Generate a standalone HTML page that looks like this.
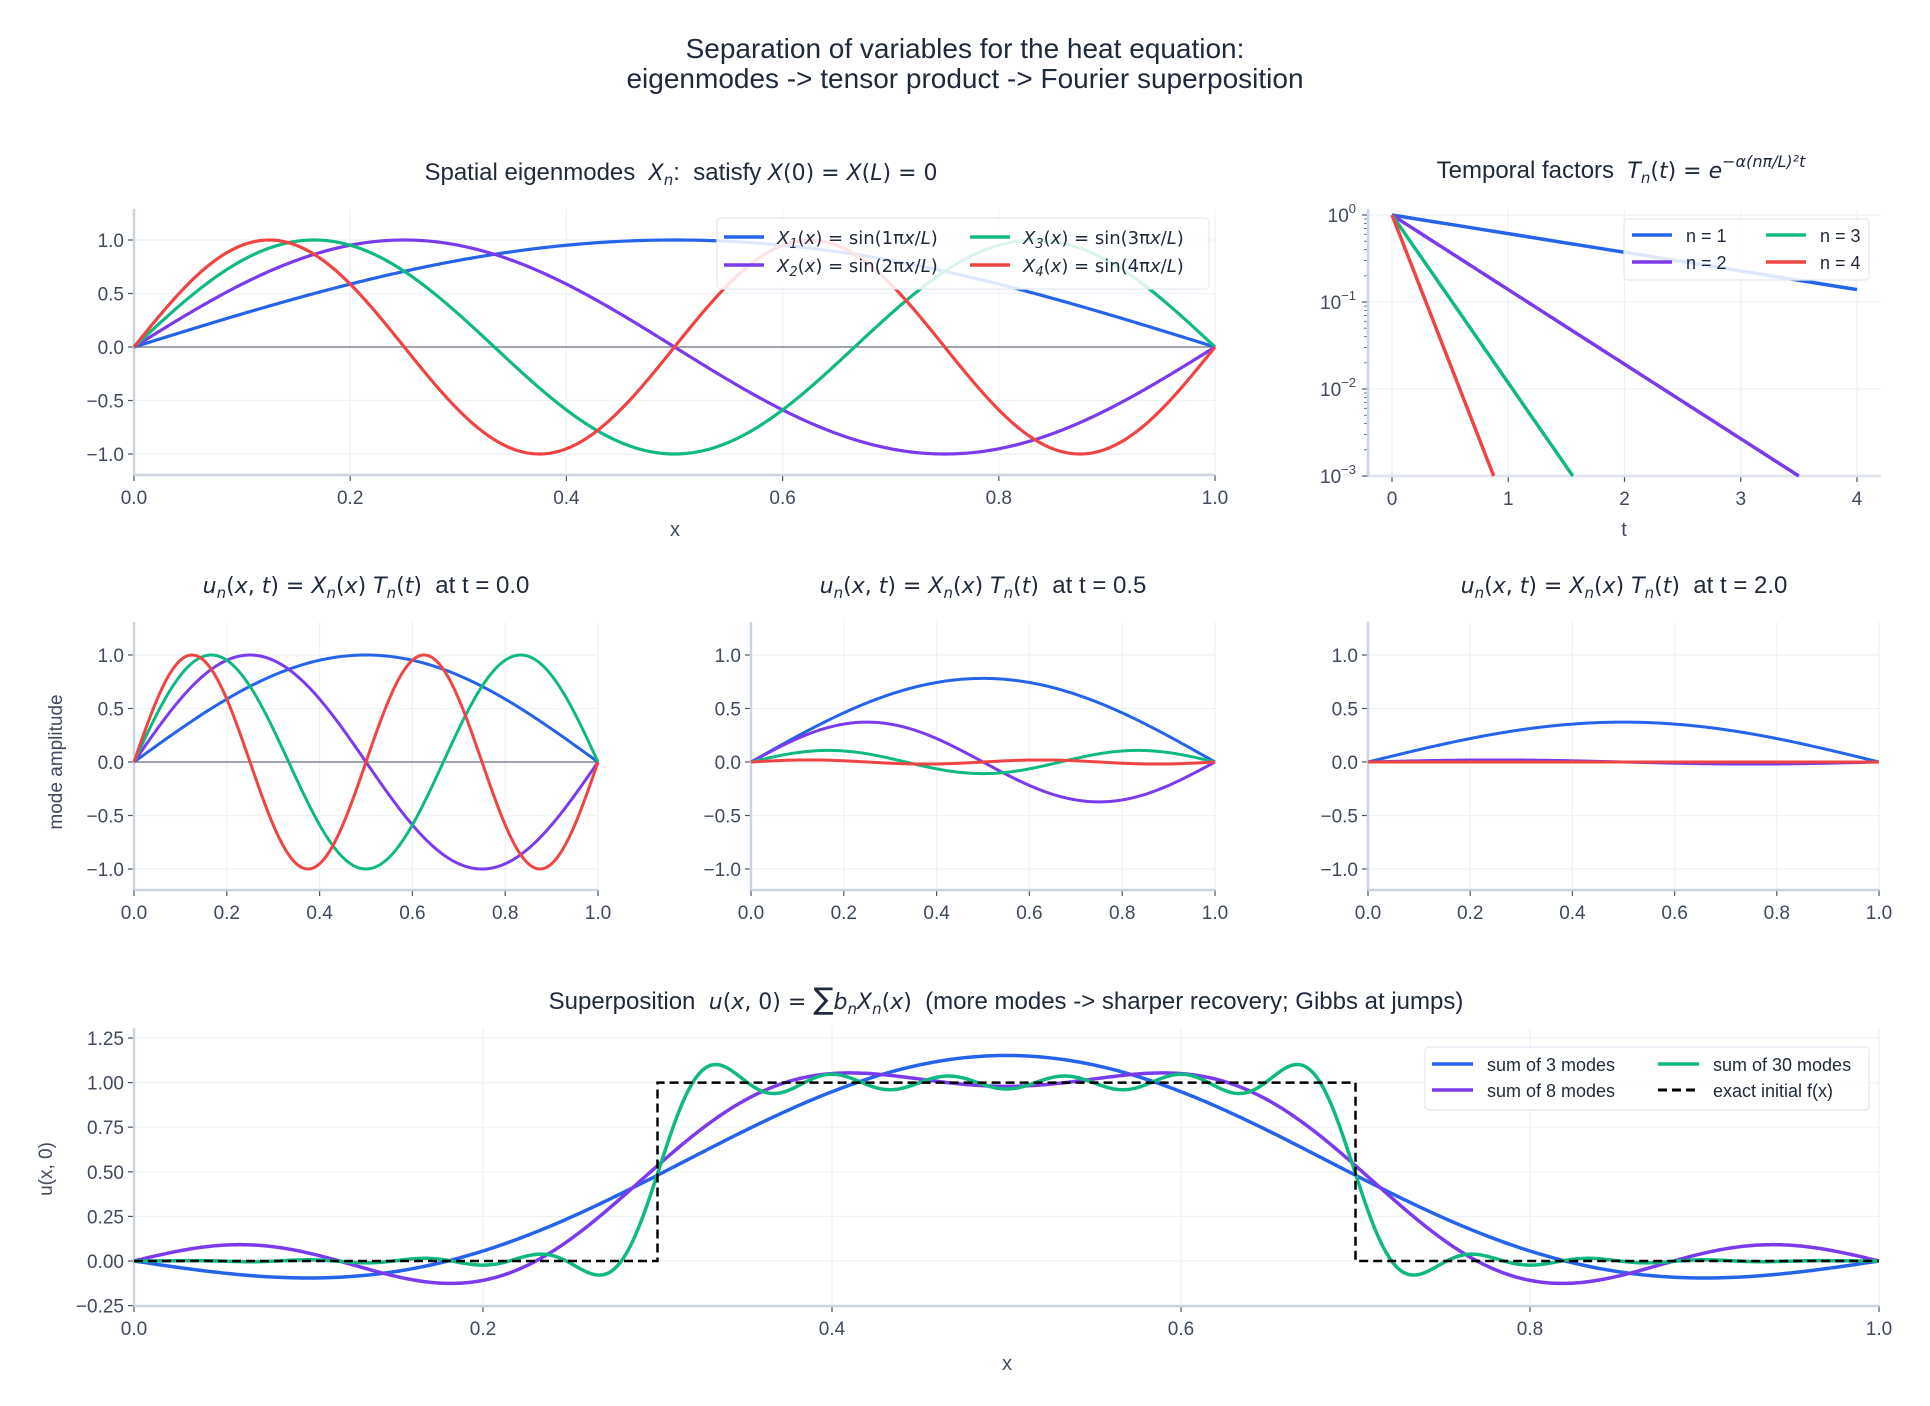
<!DOCTYPE html>
<html><head><meta charset="utf-8">
<style>
html,body{margin:0;padding:0;background:#fff;}
svg{display:block;font-family:"Liberation Sans",Arial,sans-serif;}
svg text{white-space:pre;}
.tk{font-size:19px;fill:#3f4a5c;}
.ttl{font-size:24px;fill:#1e293b;}
.m{font-family:"DejaVu Sans",sans-serif;font-style:italic;font-size:22px;}
.mr{font-family:"DejaVu Sans",sans-serif;font-size:22px;}
.lg{font-size:18px;fill:#1e293b;}
.lg .m,.lg .mr{font-size:18px;}
</style></head>
<body>
<svg id="s" width="1930" height="1406" viewBox="0 0 1930 1406" xmlns="http://www.w3.org/2000/svg">
<text x="965" y="58" text-anchor="middle" style="font-size:28px;fill:#1e293b">Separation of variables for the heat equation:</text>
<text x="965" y="88" text-anchor="middle" style="font-size:28px;fill:#1e293b">eigenmodes -&gt; tensor product -&gt; Fourier superposition</text>

<text x="681" y="180" text-anchor="middle" class="ttl">Spatial eigenmodes  <tspan class="m">X</tspan><tspan class="m" dy="5" style="font-size:15px">n</tspan><tspan dy="-5">:  satisfy </tspan><tspan class="m">X</tspan><tspan class="mr">(0) = </tspan><tspan class="m">X</tspan><tspan class="mr">(</tspan><tspan class="m">L</tspan><tspan class="mr">) = 0</tspan></text>
<text x="1621" y="178" text-anchor="middle" class="ttl">Temporal factors  <tspan class="m">T</tspan><tspan class="m" dy="5" style="font-size:15px">n</tspan><tspan class="mr" dy="-5">(</tspan><tspan class="m">t</tspan><tspan class="mr">) = </tspan><tspan class="m">e</tspan><tspan class="m" dy="-11" style="font-size:16px">−α(nπ/L)²t</tspan></text>

<text x="366" y="593" text-anchor="middle" class="ttl"><tspan class="m">u</tspan><tspan class="m" dy="5" style="font-size:15px">n</tspan><tspan class="mr" dy="-5">(</tspan><tspan class="m">x</tspan><tspan class="mr">, </tspan><tspan class="m">t</tspan><tspan class="mr">) = </tspan><tspan class="m">X</tspan><tspan class="m" dy="5" style="font-size:15px">n</tspan><tspan class="mr" dy="-5">(</tspan><tspan class="m">x</tspan><tspan class="mr">) </tspan><tspan class="m">T</tspan><tspan class="m" dy="5" style="font-size:15px">n</tspan><tspan class="mr" dy="-5">(</tspan><tspan class="m">t</tspan><tspan class="mr">)</tspan>  at t = 0.0</text>
<text x="983" y="593" text-anchor="middle" class="ttl"><tspan class="m">u</tspan><tspan class="m" dy="5" style="font-size:15px">n</tspan><tspan class="mr" dy="-5">(</tspan><tspan class="m">x</tspan><tspan class="mr">, </tspan><tspan class="m">t</tspan><tspan class="mr">) = </tspan><tspan class="m">X</tspan><tspan class="m" dy="5" style="font-size:15px">n</tspan><tspan class="mr" dy="-5">(</tspan><tspan class="m">x</tspan><tspan class="mr">) </tspan><tspan class="m">T</tspan><tspan class="m" dy="5" style="font-size:15px">n</tspan><tspan class="mr" dy="-5">(</tspan><tspan class="m">t</tspan><tspan class="mr">)</tspan>  at t = 0.5</text>
<text x="1624" y="593" text-anchor="middle" class="ttl"><tspan class="m">u</tspan><tspan class="m" dy="5" style="font-size:15px">n</tspan><tspan class="mr" dy="-5">(</tspan><tspan class="m">x</tspan><tspan class="mr">, </tspan><tspan class="m">t</tspan><tspan class="mr">) = </tspan><tspan class="m">X</tspan><tspan class="m" dy="5" style="font-size:15px">n</tspan><tspan class="mr" dy="-5">(</tspan><tspan class="m">x</tspan><tspan class="mr">) </tspan><tspan class="m">T</tspan><tspan class="m" dy="5" style="font-size:15px">n</tspan><tspan class="mr" dy="-5">(</tspan><tspan class="m">t</tspan><tspan class="mr">)</tspan>  at t = 2.0</text>

<text x="1006" y="1009" text-anchor="middle" class="ttl">Superposition  <tspan class="m">u</tspan><tspan class="mr">(</tspan><tspan class="m">x</tspan><tspan class="mr">, 0) = </tspan><tspan class="mr" style="font-size:30px">∑</tspan><tspan class="m">b</tspan><tspan class="m" dy="5" style="font-size:15px">n</tspan><tspan class="m" dy="-5">X</tspan><tspan class="m" dy="5" style="font-size:15px">n</tspan><tspan class="mr" dy="-5">(</tspan><tspan class="m">x</tspan><tspan class="mr">)</tspan>  (more modes -&gt; sharper recovery; Gibbs at jumps)</text>

<text x="675" y="536" text-anchor="middle" class="tk" style="font-size:20px">x</text>
<text x="1624" y="536" text-anchor="middle" class="tk" style="font-size:20px">t</text>
<text x="1007" y="1370" text-anchor="middle" class="tk" style="font-size:20px">x</text>
<text transform="translate(62,762) rotate(-90)" text-anchor="middle" class="tk" style="font-size:19px">mode amplitude</text>
<text transform="translate(52,1169) rotate(-90)" text-anchor="middle" class="tk" style="font-size:19px">u(x, 0)</text>
<g id="g"></g>
</svg>
<script>
var NS="http://www.w3.org/2000/svg",G=document.getElementById('g');
function el(t,a,p){var e=document.createElementNS(NS,t);for(var k in a)e.setAttribute(k,a[k]);(p||G).appendChild(e);return e;}
function tx(x,y,s,a,cls){var e=el('text',{x:x,y:y,'text-anchor':a||'middle','class':cls||'tk'});e.textContent=s;return e;}
var C=['#2563eb','#7c3aed','#10b981','#ef4444'];
var grid='#eef1f6',spine='#cbd5e1';
function axes(o){
  o.xt.forEach(function(v){var X=o.fx(v[0]);el('line',{x1:X,x2:X,y1:o.y0,y2:o.y1,stroke:grid,'stroke-width':1.2});
    el('line',{x1:X,x2:X,y1:o.y1,y2:o.y1+6,stroke:'#475569','stroke-width':1.2});tx(X,o.y1+29,v[1]);});
  o.yt.forEach(function(v){var Y=o.fy(v[0]);el('line',{x1:o.x0,x2:o.x1,y1:Y,y2:Y,stroke:grid,'stroke-width':1.2});
    el('line',{x1:o.x0-6,x2:o.x0,y1:Y,y2:Y,stroke:'#475569','stroke-width':1.2});tx(o.x0-10,Y+7,v[1],'end');});
  el('line',{x1:o.x0,x2:o.x0,y1:o.y0,y2:o.y1,stroke:spine,'stroke-width':2.5});
  el('line',{x1:o.x0,x2:o.x1,y1:o.y1,y2:o.y1,stroke:spine,'stroke-width':2.5});
}
function path(f,fx,fy,a,b,N,col,w,dash){var d='';for(var i=0;i<=N;i++){var x=a+(b-a)*i/N;d+=(i?'L':'M')+fx(x).toFixed(2)+','+fy(f(x)).toFixed(2);}
  var at={d:d,fill:'none',stroke:col,'stroke-width':w||3,'stroke-linejoin':'round'};if(dash)at['stroke-dasharray']=dash;return el('path',at);}
function lin(a,b,A,B){return function(v){return A+(v-a)*(B-A)/(b-a);};}
var xt5=[[0,'0.0'],[0.2,'0.2'],[0.4,'0.4'],[0.6,'0.6'],[0.8,'0.8'],[1,'1.0']];
var yt1=[[-1,'\u22121.0'],[-0.5,'\u22120.5'],[0,'0.0'],[0.5,'0.5'],[1,'1.0']];
var PI=Math.PI,al=0.05;
(function(){var fx=lin(0,1,134,1215),fy=lin(0,1,347,240);
 axes({x0:134,x1:1215,y0:209,y1:475,fx:fx,fy:fy,xt:xt5,yt:yt1});
 el('line',{x1:134,x2:1215,y1:347,y2:347,stroke:'#6b7280','stroke-width':1.2});
 for(var n=1;n<=4;n++)(function(n){path(function(x){return Math.sin(n*PI*x);},fx,fy,0,1,400,C[n-1],3.2);})(n);
 el('rect',{x:717,y:218,width:492,height:71,rx:4,fill:'rgba(255,255,255,0.85)',stroke:'#e2e8f0','stroke-width':1.2});
 [[0,0,1],[0,1,2],[1,0,3],[1,1,4]].forEach(function(r){var cx=r[0]?246:0,cy=r[1]?265:237;
  el('line',{x1:724+cx,x2:764+cx,y1:cy,y2:cy,stroke:C[r[2]-1],'stroke-width':3.5});
  var t=el('text',{x:777+cx,y:cy+7,'class':'lg'});t.innerHTML='<tspan class="m">X</tspan><tspan class="m" dy="4" style="font-size:13px">'+r[2]+'</tspan><tspan class="mr" dy="-4">(</tspan><tspan class="m">x</tspan><tspan class="mr">) = sin('+r[2]+'π</tspan><tspan class="m">x</tspan><tspan class="mr">/</tspan><tspan class="m">L</tspan><tspan class="mr">)</tspan>';});
})();
(function(){var fx=lin(0,4,1392,1857),fy=function(v){return 215+(-Math.log10(v))*(476-215)/3;};
 var xt=[[0,'0'],[1,'1'],[2,'2'],[3,'3'],[4,'4']];
 axes({x0:1368,x1:1881,y0:209,y1:476,fx:fx,fy:fy,xt:xt,yt:[]});
 [0,-1,-2,-3].forEach(function(e){var Y=fy(Math.pow(10,e));el('line',{x1:1368,x2:1881,y1:Y,y2:Y,stroke:grid,'stroke-width':1.2});
  el('line',{x1:1362,x2:1368,y1:Y,y2:Y,stroke:'#475569','stroke-width':1.2});
  var t=el('text',{x:1356,y:Y+7,'text-anchor':'end','class':'tk'});t.innerHTML='10<tspan dy="-9" style="font-size:13px">'+(e==0?'0':'\u2212'+(-e))+'</tspan>';
  if(e>-3)for(var m=2;m<10;m++){var Ym=fy(m*Math.pow(10,e-1));el('line',{x1:1364,x2:1368,y1:Ym,y2:Ym,stroke:'#475569','stroke-width':0.8});}});
 el('line',{x1:1368,x2:1368,y1:209,y2:476,stroke:spine,'stroke-width':2.5});
 for(var n=1;n<=4;n++)(function(n){var k=al*n*n*PI*PI;var tend=Math.min(4,Math.log(1000)/k);
  path(function(t){return Math.exp(-k*t);},fx,fy,0,tend,50,C[n-1],3.5);})(n);
 el('rect',{x:1624,y:219,width:245,height:61,rx:4,fill:'rgba(255,255,255,0.85)',stroke:'#e2e8f0','stroke-width':1.2});
 [[0,0,'n = 1',0],[0,1,'n = 2',1],[1,0,'n = 3',2],[1,1,'n = 4',3]].forEach(function(r){var cx=r[0]?134:0,cy=r[1]?262:235;
  el('line',{x1:1632+cx,x2:1672+cx,y1:cy,y2:cy,stroke:C[r[3]],'stroke-width':3.5});tx(1686+cx,cy+7,r[2],'start','lg');});
})();
[[134,598,0],[751,1215,0.5],[1368,1879,2]].forEach(function(p){
 var fx=lin(0,1,p[0],p[1]),fy=lin(0,1,762,655);
 axes({x0:p[0],x1:p[1],y0:622,y1:890,fx:fx,fy:fy,xt:xt5,yt:yt1});
 if(p[2]==0)el('line',{x1:p[0],x2:p[1],y1:762,y2:762,stroke:'#6b7280','stroke-width':1.2});
 for(var n=1;n<=4;n++)(function(n){var T=Math.exp(-al*n*n*PI*PI*p[2]);path(function(x){return T*Math.sin(n*PI*x);},fx,fy,0,1,300,C[n-1],3);})(n);
});
(function(){var fx=lin(0,1,134,1879),fy=lin(0,1.25,1261,1038);
 var yt=[[-0.25,'\u22120.25'],[0,'0.00'],[0.25,'0.25'],[0.5,'0.50'],[0.75,'0.75'],[1,'1.00'],[1.25,'1.25']];
 axes({x0:134,x1:1879,y0:1028,y1:1306,fx:fx,fy:fy,xt:xt5,yt:yt});
 function S(N){return function(x){var s=0;for(var n=1;n<=N;n++){var b=2/(n*PI)*(Math.cos(0.3*n*PI)-Math.cos(0.7*n*PI));s+=b*Math.sin(n*PI*x);}return s;};}
 path(S(3),fx,fy,0,1,500,C[0],3.5);
 path(S(8),fx,fy,0,1,800,C[1],3.5);
 path(S(30),fx,fy,0,1,1500,C[2],3.5);
 el('path',{d:'M'+fx(0)+','+fy(0)+'L'+fx(0.3)+','+fy(0)+'L'+fx(0.3)+','+fy(1)+'L'+fx(0.7)+','+fy(1)+'L'+fx(0.7)+','+fy(0)+'L'+fx(1)+','+fy(0),fill:'none',stroke:'#000','stroke-width':2.5,'stroke-dasharray':'9,5'});
 el('rect',{x:1425,y:1047,width:444,height:63,rx:4,fill:'rgba(255,255,255,0.85)',stroke:'#e2e8f0','stroke-width':1.2});
 [[0,0,'sum of 3 modes',C[0]],[0,1,'sum of 8 modes',C[1]],[1,0,'sum of 30 modes',C[2]],[1,1,'exact initial f(x)','#000']].forEach(function(r){var cx=r[0]?226:0,cy=r[1]?1090:1064;
  var a={x1:1432+cx,x2:1473+cx,y1:cy,y2:cy,stroke:r[3],'stroke-width':3.5};if(r[3]=='#000'){a['stroke-dasharray']='9,5';a['stroke-width']=3;}el('line',a);
  tx(1487+cx,cy+7,r[2],'start','lg');});
})();
</script>
</body></html>
